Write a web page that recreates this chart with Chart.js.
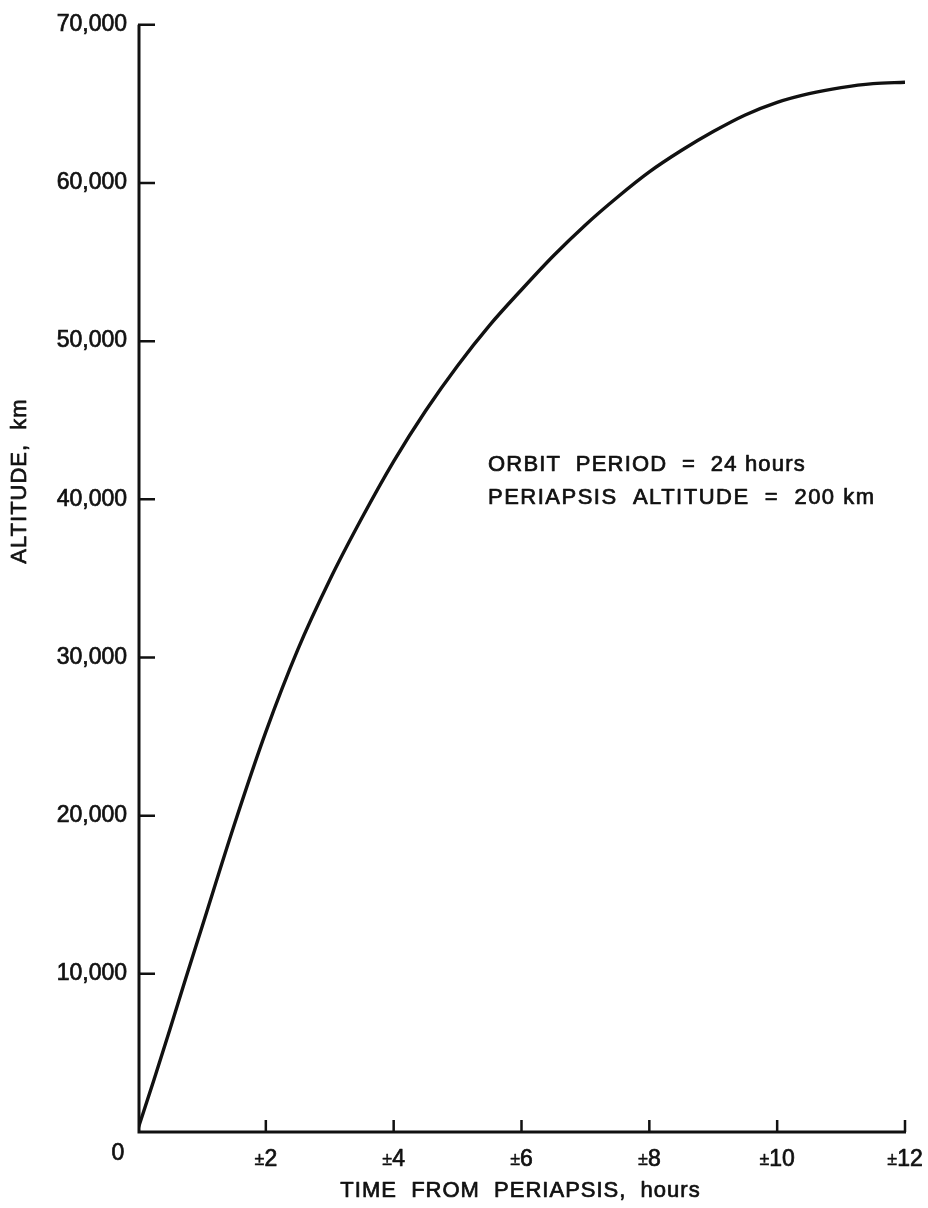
<!DOCTYPE html>
<html>
<head>
<meta charset="utf-8">
<script src="https://cdn.jsdelivr.net/npm/chart.js@4/dist/chart.umd.min.js"></script>
<style>
  html, body { margin: 0; padding: 0; background: #fff; }
  #wrap { width: 928px; height: 1208px; }
</style>
</head>
<body>
<div id="wrap"><canvas id="c" width="928" height="1208"></canvas></div>
<script>
// Altitude above the surface versus time from periapsis
const hours = [0, 0.25, 0.5, 0.75, 1, 1.5, 2, 2.5, 3, 3.5, 4, 4.5, 5, 5.5, 6, 6.5, 7, 7.5, 8, 8.5, 9, 9.5, 10, 10.5, 11, 11.5, 12];
const altitudeKm = [200, 3300, 6500, 9750, 12950, 19350, 25300, 30500, 34900, 38800, 42400, 45600, 48450, 51000, 53250, 55400, 57350, 59100, 60700, 62050, 63250, 64300, 65100, 65650, 66030, 66280, 66370];

const xTickValues = [0, 2, 4, 6, 8, 10, 12];
const xTickNumbers = ['0', '2', '4', '6', '8', '10', '12'];
const yTickValues = [0, 10000, 20000, 30000, 40000, 50000, 60000, 70000];
const yTickLabels = ['', '10,000', '20,000', '30,000', '40,000', '50,000', '60,000', '70,000'];

const xTitle = 'TIME  FROM  PERIAPSIS,  hours';
const yTitle = 'ALTITUDE,  km';
const noteLines = ['ORBIT  PERIOD  =  24 hours', 'PERIAPSIS  ALTITUDE  =  200 km'];

const FONT = '"Liberation Sans", Arial, Helvetica, sans-serif';
const INK = '#111';
const TEXT_STROKE = 0.7;

// filled text with a thin outline so it reads as heavy as the printed lettering
function inkText(ctx, str, x, y) {
  ctx.fillText(str, x, y);
  ctx.strokeText(str, x, y);
}

const axesPlugin = {
  id: 'plotFrame',
  afterDatasetsDraw(chart) {
    const ctx = chart.ctx;
    const xs = chart.scales.x, ys = chart.scales.y;
    const x0 = xs.getPixelForValue(0), x1 = xs.getPixelForValue(12);
    const y0 = ys.getPixelForValue(0), y1 = ys.getPixelForValue(70000);
    ctx.save();
    ctx.strokeStyle = INK;
    ctx.lineCap = 'butt';

    // axis lines
    ctx.lineWidth = 3;
    ctx.beginPath();
    ctx.moveTo(x0 + 1, y1);
    ctx.lineTo(x0 + 1, y0 + 1.5);
    ctx.moveTo(x0 - 0.5, y0);
    ctx.lineTo(x1 + 1, y0);
    ctx.stroke();

    // inward tick marks
    ctx.lineWidth = 2.5;
    ctx.beginPath();
    yTickValues.forEach(v => {
      if (v === 0) return;
      const y = ys.getPixelForValue(v);
      ctx.moveTo(x0, y);
      ctx.lineTo(x0 + 17, y);
    });
    xTickValues.forEach(v => {
      if (v === 0) return;
      const x = xs.getPixelForValue(v);
      ctx.moveTo(x, y0);
      ctx.lineTo(x, y0 - 12);
    });
    ctx.stroke();

    // x tick labels with a small ± sign
    ctx.fillStyle = INK;
    ctx.lineWidth = TEXT_STROKE;
    ctx.lineJoin = 'round';
    ctx.textBaseline = 'alphabetic';
    xTickValues.forEach((v, i) => {
      const x = xs.getPixelForValue(v);
      if (v === 0) {
        ctx.font = '23px ' + FONT;
        ctx.textAlign = 'center';
        inkText(ctx, xTickNumbers[i], x - 20, y0 + 28);
        return;
      }
      ctx.font = '18px ' + FONT;
      const pmW = ctx.measureText('±').width;
      ctx.font = '23px ' + FONT;
      const numW = ctx.measureText(xTickNumbers[i]).width;
      const start = x - (pmW + numW) / 2;
      ctx.textAlign = 'left';
      ctx.font = '18px ' + FONT;
      ctx.lineWidth = 0.4;
      inkText(ctx, '±', start, y0 + 33);
      ctx.lineWidth = TEXT_STROKE;
      ctx.font = '23px ' + FONT;
      inkText(ctx, xTickNumbers[i], start + pmW, y0 + 34);
    });

    // axis titles
    ctx.letterSpacing = '1px';
    ctx.font = '22px ' + FONT;
    ctx.textAlign = 'center';
    inkText(ctx, xTitle, (x0 + x1) / 2 - 1, y0 + 65);

    ctx.save();
    ctx.translate(26, 481);
    ctx.rotate(-Math.PI / 2);
    inkText(ctx, yTitle, 0, 0);
    ctx.restore();

    // orbit note
    ctx.letterSpacing = '1.2px';
    ctx.textAlign = 'left';
    inkText(ctx, noteLines[0], 488, 471);
    ctx.letterSpacing = '1.5px';
    inkText(ctx, noteLines[1], 488, 504);
    ctx.restore();
  }
};

new Chart(document.getElementById('c'), {
  type: 'scatter',
  data: {
    datasets: [{
      data: hours.map((h, i) => ({ x: h, y: altitudeKm[i] })),
      showLine: true,
      borderColor: INK,
      borderWidth: 3.4,
      pointRadius: 0,
      cubicInterpolationMode: 'monotone',
      fill: false
    }]
  },
  options: {
    responsive: false,
    devicePixelRatio: 1,
    animation: false,
    layout: { padding: { top: 18, right: 23, bottom: 0, left: 0 } },
    plugins: { legend: { display: false }, tooltip: { enabled: false } },
    scales: {
      x: {
        type: 'linear',
        min: 0,
        max: 12,
        afterBuildTicks: s => { s.ticks = xTickValues.map(v => ({ value: v })); },
        afterFit: s => { s.height = 76; },
        ticks: { display: false },
        grid: { display: false, drawTicks: false },
        border: { display: false }
      },
      y: {
        type: 'linear',
        min: 0,
        max: 70000,
        afterBuildTicks: s => { s.ticks = yTickValues.map(v => ({ value: v })); },
        afterFit: s => { s.width = 138; },
        ticks: {
          padding: 11,
          color: INK,
          textStrokeColor: INK,
          textStrokeWidth: TEXT_STROKE,
          font: { family: FONT, size: 23 },
          callback: v => yTickLabels[yTickValues.indexOf(v)]
        },
        grid: { display: false, drawTicks: false },
        border: { display: false }
      }
    }
  },
  plugins: [axesPlugin]
});
</script>
</body>
</html>
